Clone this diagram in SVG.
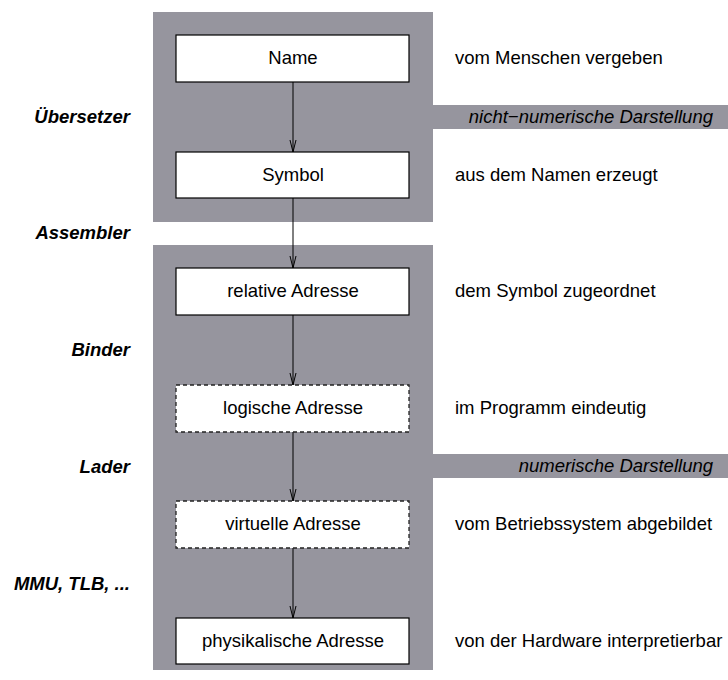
<svg xmlns="http://www.w3.org/2000/svg" width="728" height="680" viewBox="0 0 728 680">
<style>
.panel{fill:#96959e;stroke:none}
.box{fill:#ffffff;stroke:#000000;stroke-width:1.2}
.dbox{fill:#ffffff;stroke:#222222;stroke-width:1.3;stroke-dasharray:4 3}
.t{font-family:"Liberation Sans",Arial,sans-serif;font-size:18.5px;fill:#000}
.c{text-anchor:middle}
.l{font-family:"Liberation Sans",Arial,sans-serif;font-size:18.5px;font-weight:bold;font-style:italic;text-anchor:end;fill:#000}
.b{font-family:"Liberation Sans",Arial,sans-serif;font-size:18.5px;font-style:italic;text-anchor:end;fill:#000}
.e{stroke:#000;stroke-width:1;fill:none}
</style>
<defs>
<marker id="ah" viewBox="0 0 14 8" refX="13" refY="4" markerWidth="14" markerHeight="8" markerUnits="userSpaceOnUse" orient="auto">
<path d="M1,1 L13,4 L1,7" fill="none" stroke="#000" stroke-width="1"/>
</marker>
</defs>
<g id="background">
<rect class="panel" x="153" y="12" width="280" height="210"/>
<rect class="panel" x="433" y="105" width="295" height="24"/>
<rect class="panel" x="153" y="245" width="280" height="425"/>
<rect class="panel" x="433" y="454" width="295" height="24"/>
<text class="b" x="713" y="123">nicht−numerische Darstellung</text>
<text class="b" x="713" y="472">numerische Darstellung</text>
</g>
<g id="connectors">
<line class="e" x1="293" y1="82" x2="293" y2="152" marker-end="url(#ah)"/>
<line class="e" x1="293" y1="198" x2="293" y2="268" marker-end="url(#ah)"/>
<line class="e" x1="293" y1="315" x2="293" y2="385" marker-end="url(#ah)"/>
<line class="e" x1="293" y1="432" x2="293" y2="501" marker-end="url(#ah)"/>
<line class="e" x1="293" y1="548" x2="293" y2="618" marker-end="url(#ah)"/>
</g>
<g id="name">
<rect class="box" x="176" y="35" width="233" height="47"/>
<text class="t c" x="293" y="64">Name</text>
<text class="t" x="455" y="64">vom Menschen vergeben</text>
</g>
<g id="symbol">
<rect class="box" x="176" y="152" width="233" height="46"/>
<text class="t c" x="293" y="181">Symbol</text>
<text class="t" x="455" y="181">aus dem Namen erzeugt</text>
</g>
<g id="relative">
<rect class="box" x="176" y="268" width="233" height="47"/>
<text class="t c" x="293" y="297">relative Adresse</text>
<text class="t" x="455" y="297">dem Symbol zugeordnet</text>
</g>
<g id="logische">
<rect class="dbox" x="176" y="385" width="233" height="47"/>
<text class="t c" x="293" y="414">logische Adresse</text>
<text class="t" x="455" y="414">im Programm eindeutig</text>
</g>
<g id="virtuelle">
<rect class="dbox" x="176" y="501" width="233" height="47"/>
<text class="t c" x="293" y="530">virtuelle Adresse</text>
<text class="t" x="455" y="530">vom Betriebssystem abgebildet</text>
</g>
<g id="physikalische">
<rect class="box" x="176" y="618" width="233" height="46"/>
<text class="t c" x="293" y="647">physikalische Adresse</text>
<text class="t" x="455" y="647">von der Hardware interpretierbar</text>
</g>
<g id="labels">
<text class="l" x="130" y="123">Übersetzer</text>
<text class="l" x="130" y="239">Assembler</text>
<text class="l" x="130" y="356">Binder</text>
<text class="l" x="130" y="473">Lader</text>
<text class="l" x="130" y="590">MMU, TLB, ...</text>
</g>
</svg>
